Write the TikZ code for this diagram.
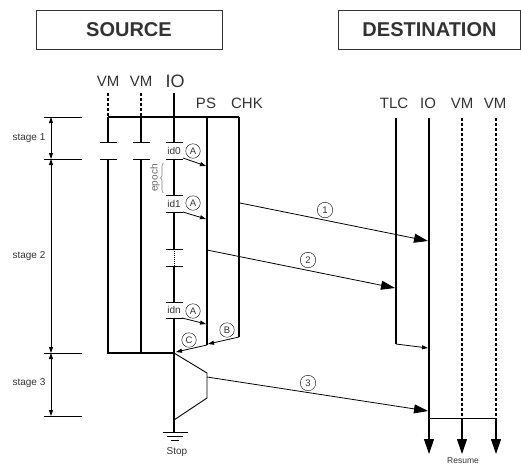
\documentclass[tikz,border=0pt]{standalone}
\usepackage{fontspec}
\setmainfont{Liberation Sans}
\usetikzlibrary{arrows.meta,decorations.pathreplacing}
\definecolor{txt}{HTML}{333333}
\tikzset{
  lbl/.style={text=txt, inner sep=0pt, font=\fontsize{15}{15}\selectfont},
  small/.style={text=txt, inner sep=0pt, font=\fontsize{10}{10}\selectfont},
  title/.style={draw=txt, line width=0.7pt, minimum height=39pt, text=txt, font=\fontsize{20}{20}\selectfont\bfseries},
  life/.style={line width=1.1pt},
  vmdash/.style={line width=1.1pt, dash pattern=on 3pt off 2pt},
  tick/.style={line width=1pt},
  circ/.style={circle, draw, inner sep=0pt, minimum size=14.5pt, text=txt, font=\fontsize{9.5}{9.5}\selectfont},
  bigarr/.style={line width=0.8pt, -{Triangle[length=14pt,width=9pt]}},
  smallarr/.style={line width=0.8pt, -{Triangle[length=6pt,width=4pt]}},
  stagearr/.style={line width=0.8pt, {Triangle[length=6pt,width=4pt]}-{Triangle[length=6pt,width=4pt]}},
  downarr/.style={line width=1.1pt, -{Triangle[length=15pt,width=10pt]}},
}
\begin{document}
\begin{tikzpicture}[x=1pt,y=-1pt]
\useasboundingbox (0,0) rectangle (521,464);

% titles
\node[title, minimum width=186pt] (src) at (129,29.5) {SOURCE};
\node[title, minimum width=182pt] (dst) at (429.5,29.5) {DESTINATION};

% source labels
\node[lbl] (lvm1) at (108,81) {VM};
\node[lbl] (lvm2) at (141,81) {VM};
\node[lbl, font=\fontsize{18}{18}\selectfont] (lio) at (175,81) {IO};
\node[lbl] (lps) at (206,103) {PS};
\node[lbl] (lchk) at (247,103) {CHK};

% destination labels
\node[lbl] (ltlc) at (394,103) {TLC};
\node[lbl] (ldio) at (428,103) {IO};
\node[lbl] (ldvm1) at (462,103) {VM};
\node[lbl] (ldvm2) at (495,103) {VM};

% source coordinates
\coordinate (v1a) at (108,93);  \coordinate (v1b) at (108,117);
\coordinate (v1c) at (108,142); \coordinate (v1d) at (108,159);
\coordinate (v1e) at (108,353);
\coordinate (v2a) at (141,93);  \coordinate (v2b) at (141,117);
\coordinate (v2c) at (141,142); \coordinate (v2d) at (141,159);
\coordinate (v2e) at (141,353);
\coordinate (ioa) at (174,93);  \coordinate (iob) at (174,142);
\coordinate (ioc) at (174,159); \coordinate (iod) at (174,195);
\coordinate (ioe) at (174,212); \coordinate (iof) at (174,249);
\coordinate (iog) at (174,266); \coordinate (ioh) at (174,302);
\coordinate (ioi) at (174,318); \coordinate (ioj) at (174,353);
\coordinate (iok) at (174,420); \coordinate (iol) at (174,432);
\coordinate (psa) at (207,117); \coordinate (psb) at (207,345);
\coordinate (chka) at (239,117); \coordinate (chkb) at (239,337);

% VM lines
\draw[vmdash] (v1a) -- (v1b);
\draw[vmdash] (v2a) -- (v2b);
\draw[life] (v1b) -- (v1c);
\draw[life] (v2b) -- (v2c);
\draw[life] (v1d) -- (v1e) -- (ioj);
\draw[life] (v2d) -- (v2e);
\draw[life] (v1b) -- (chka);
% ticks for pause
\foreach \x in {108,141,174}{
  \draw[tick] (\x-8.5,142) -- (\x+8.5,142);
  \draw[tick] (\x-8.5,159) -- (\x+8.5,159);
}
\foreach \y in {195,212,249,266,302,318}{
  \draw[tick] (165.5,\y) -- (183,\y);
}
% IO source
\draw[life] (ioa) -- (iob);
\draw[life] (ioc) -- (iod);
\draw[life] (ioe) -- (iof);
\draw[line width=1pt, dash pattern=on 1pt off 1pt] (iof) -- (iog);
\draw[life] (iog) -- (ioh);
\draw[life] (ioi) -- (iol);
% PS, CHK
\draw[life] (psa) -- (psb);
\draw[life] (chka) -- (chkb);

% ground
\draw[line width=1pt] (163,432) -- (188,432);
\draw[line width=1pt] (167,436) -- (183,436);
\draw[line width=1pt] (171,440) -- (179,440);
\node[small] (stop) at (177,452) {Stop};

% trapezoid
\coordinate (tra) at (207,373); \coordinate (trb) at (207,398);
\coordinate (t3) at (207,377);
\draw[line width=0.9pt] (ioj) -- (tra) -- (trb) -- (iok);

% id labels
\node[small, fill=white] (id0) at (174,151) {id0};
\node[small, fill=white] (id1) at (174,204) {id1};
\node[small, fill=white] (idn) at (174,310) {idn};

% epoch brace
\draw[gray, line width=0.6pt, decorate, decoration={brace, amplitude=3pt}] (163.5,193) -- (163.5,163);
\node[small, text=gray!80!black, rotate=90] (epoch) at (155,178) {epoch};

% circles
\node[circ] (A0) at (193,151) {A};
\node[circ] (A1) at (193,203) {A};
\node[circ] (A2) at (193,311) {A};
\node[circ] (B) at (227,330) {B};
\node[circ] (C) at (189,340) {C};

% A arrows
\coordinate (a0s) at (183,158); \coordinate (a0e) at (206,166);
\coordinate (a1s) at (183,212); \coordinate (a1e) at (206,219);
\coordinate (a2s) at (182,318); \coordinate (a2e) at (206,324);
\draw[smallarr] (a0s) -- (a0e);
\draw[smallarr] (a1s) -- (a1e);
\draw[smallarr] (a2s) -- (a2e);
\coordinate (psin) at (208,344);
\coordinate (ioin) at (176,352);
\draw[smallarr] (chkb) -- (psin);
\draw[smallarr] (psb) -- (ioin);

% stage brackets
\foreach \y in {117,159,353,416}{ \draw[line width=0.9pt] (44,\y) -- (82,\y); }
\coordinate (s1) at (51,117); \coordinate (s2) at (51,159);
\coordinate (s3) at (51,353); \coordinate (s4) at (51,416);
\draw[stagearr] (s1) -- (s2);
\draw[stagearr] (s2) -- (s3);
\draw[stagearr] (s3) -- (s4);
\node[small] (st1) at (29,138) {stage 1};
\node[small] (st2) at (29,256) {stage 2};
\node[small] (st3) at (29,383) {stage 3};

% destination lines
\coordinate (tlca) at (396,118); \coordinate (tlcb) at (396,344);
\coordinate (dioa) at (429,118); \coordinate (diob) at (429,454);
\coordinate (dioin) at (428,348);
\coordinate (dva) at (462,118); \coordinate (dvb) at (462,418); \coordinate (dvc) at (462,454);
\coordinate (dwa) at (496,118); \coordinate (dwb) at (496,418); \coordinate (dwc) at (496,454);
\coordinate (diom) at (429,418);
\draw[life] (tlca) -- (tlcb);
\draw[smallarr] (tlcb) -- (dioin);
\draw[downarr] (dioa) -- (diob);
\draw[vmdash] (dva) -- (dvb);
\draw[vmdash] (dwa) -- (dwb);
\draw[line width=1pt] (diom) -- (dwb);
\draw[downarr] (dvb) -- (dvc);
\draw[downarr] (dwb) -- (dwc);
\node[small, font=\fontsize{8.5}{8.5}\selectfont, anchor=base] (resume) at (463,463) {Resume};

% transfer arrows
\coordinate (m1s) at (240,203); \coordinate (m1e) at (428,241);
\coordinate (m2s) at (207,250); \coordinate (m2e) at (395,288);
\coordinate (m3e) at (428,411);
\draw[bigarr] (m1s) -- (m1e);
\draw[bigarr] (m2s) -- (m2e);
\draw[bigarr] (t3) -- (m3e);
\node[circ, minimum size=15.5pt] (n1) at (325,210) {1};
\node[circ, minimum size=15.5pt] (n2) at (308,260) {2};
\node[circ, minimum size=15.5pt] (n3) at (308,383) {3};
\end{tikzpicture}
\end{document}
